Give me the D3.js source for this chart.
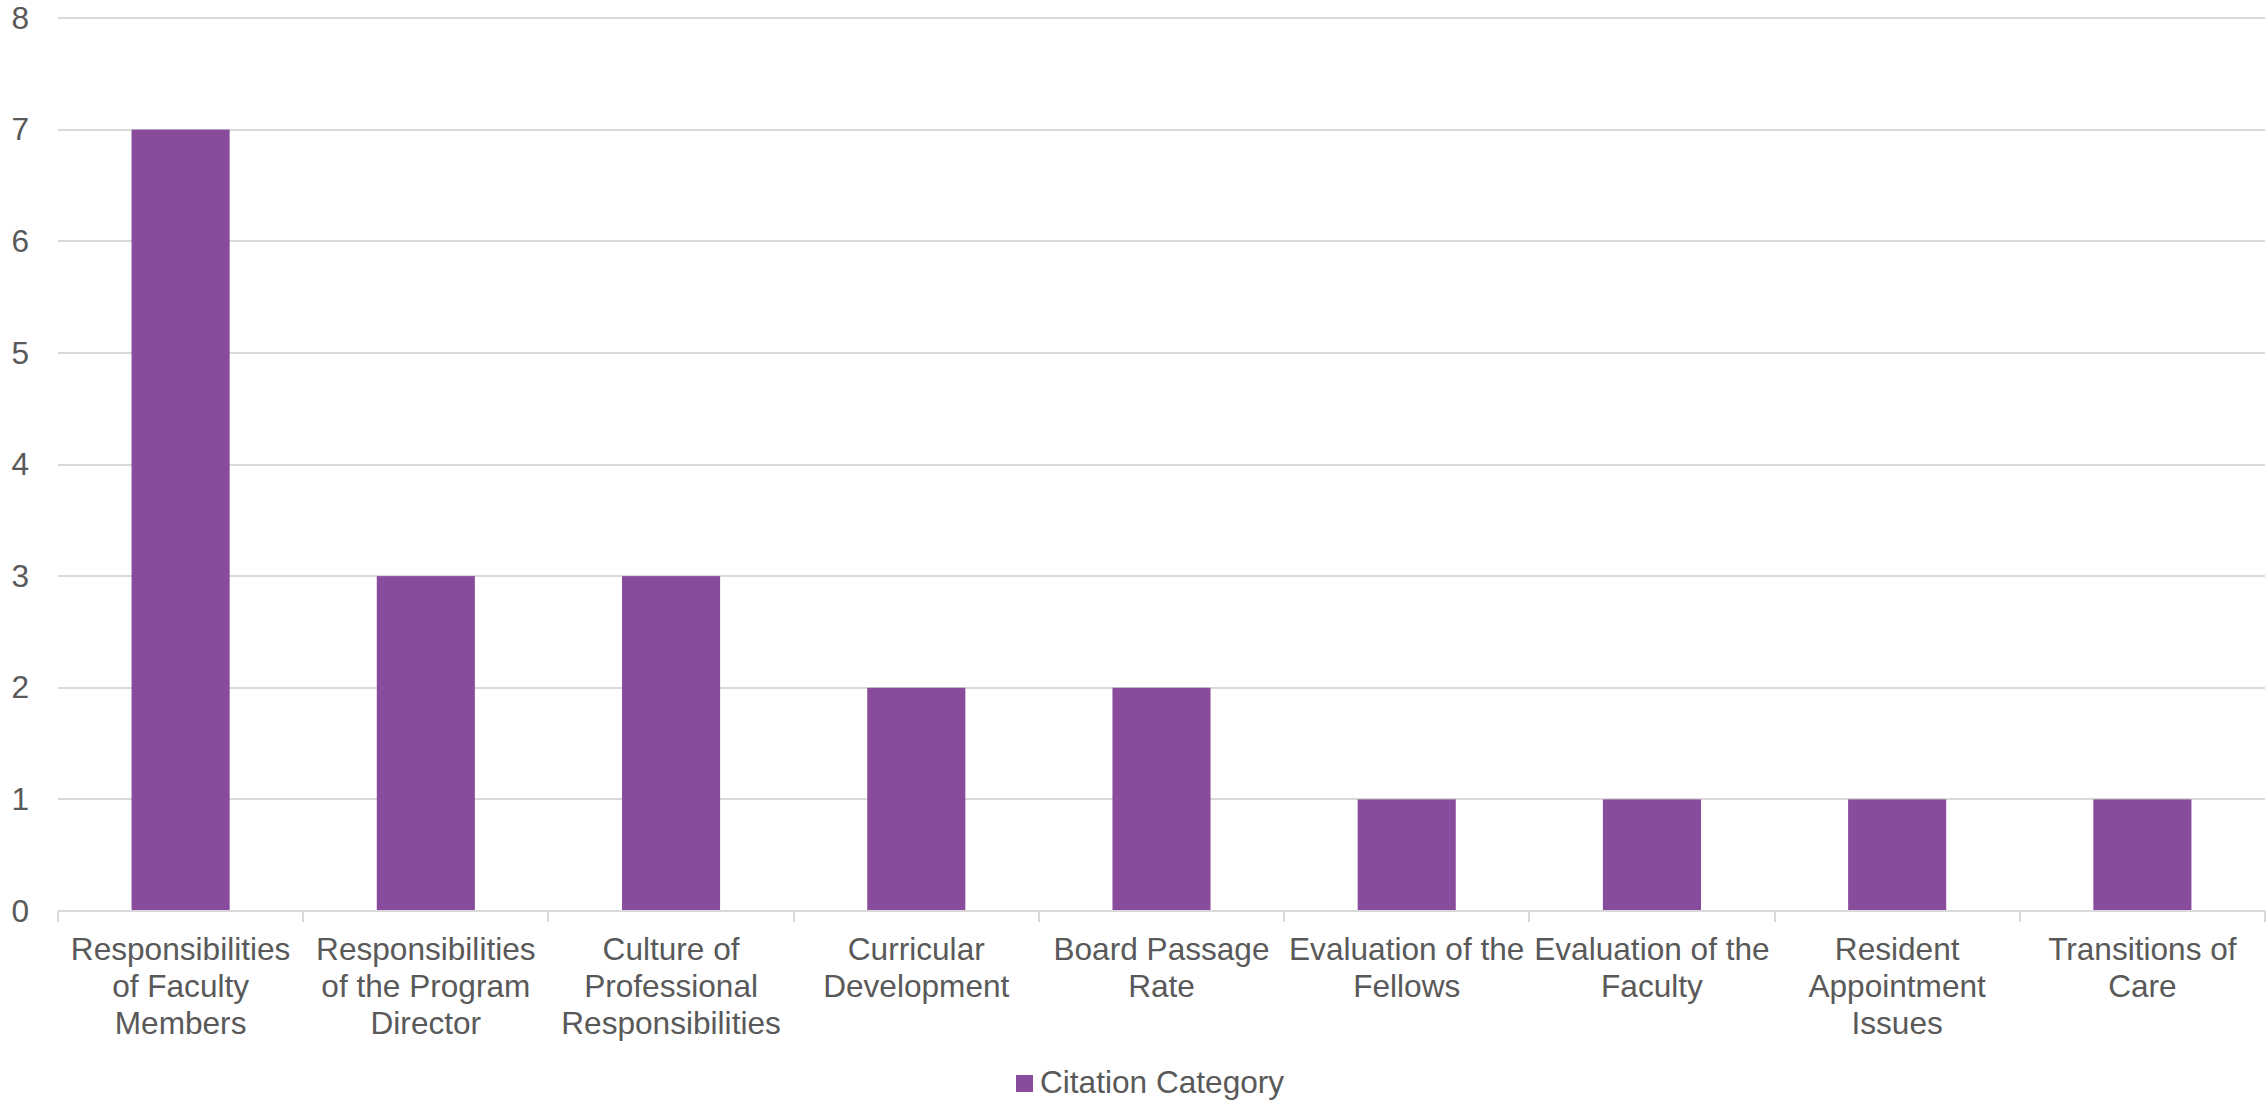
<!DOCTYPE html>
<html>
<head>
<meta charset="utf-8">
<script src="https://cdn.jsdelivr.net/npm/d3@7"></script>
<style>
  html, body { margin: 0; padding: 0; background: #fff; }
  svg { display: block; }
  text { font-family: "Liberation Sans", Arial, sans-serif; fill: #595959; }
</style>
</head>
<body>
<svg id="chart" width="2267" height="1103"></svg>
<script>
const categories = [
  "Responsibilities of Faculty Members",
  "Responsibilities of the Program Director",
  "Culture of Professional Responsibilities",
  "Curricular Development",
  "Board Passage Rate",
  "Evaluation of the Fellows",
  "Evaluation of the Faculty",
  "Resident Appointment Issues",
  "Transitions of Care"
];
const values = [7, 3, 3, 2, 2, 1, 1, 1, 1];
const yTicks = [0, 1, 2, 3, 4, 5, 6, 7, 8];
const seriesName = "Citation Category";

(function () {
const plotLeft = 58, plotRight = 2265, plotTop = 18, plotBottom = 911;
const fontSize = 31.6;
const barColor = "#894C9D";
const gridColor = "#D9D9D9";

const svg = d3.select("#chart");

const x = d3.scaleBand().domain(categories).range([plotLeft, plotRight]).padding(0);
const y = d3.scaleLinear().domain([0, 8]).range([plotBottom, plotTop]);

// gridlines
svg.append("g")
  .selectAll("line")
  .data(yTicks.filter(d => d !== 0))
  .join("line")
  .attr("x1", plotLeft).attr("x2", plotRight)
  .attr("y1", d => Math.round(y(d))).attr("y2", d => Math.round(y(d)))
  .attr("stroke", gridColor).attr("stroke-width", 2);

// y axis labels
const yAxis = d3.axisLeft(y).tickValues(yTicks).tickSize(0).tickPadding(0).tickFormat(d3.format("d"));
const yg = svg.append("g").attr("transform", `translate(${plotLeft - 29},0)`).call(yAxis);
yg.select(".domain").remove();
yg.selectAll("text")
  .attr("font-size", fontSize)
  .attr("font-family", "Liberation Sans, Arial, sans-serif")
  .attr("fill", "#595959");

// bars
const barFrac = 0.4;
svg.append("g")
  .selectAll("rect")
  .data(values)
  .join("rect")
  .attr("x", (d, i) => x(categories[i]) + x.bandwidth() * (1 - barFrac) / 2)
  .attr("width", x.bandwidth() * barFrac)
  .attr("y", d => y(d))
  .attr("height", d => y(0) - y(d))
  .attr("fill", barColor);

// x axis line and ticks
const xg = svg.append("g");
xg.append("line")
  .attr("x1", plotLeft).attr("x2", plotRight)
  .attr("y1", plotBottom).attr("y2", plotBottom)
  .attr("stroke", gridColor).attr("stroke-width", 2);
const tickXs = categories.map(c => x(c)).concat([plotRight]);
xg.selectAll("line.tick")
  .data(tickXs)
  .join("line")
  .attr("class", "tick")
  .attr("x1", d => Math.round(d)).attr("x2", d => Math.round(d))
  .attr("y1", plotBottom).attr("y2", plotBottom + 11)
  .attr("stroke", gridColor).attr("stroke-width", 2);

// x labels with wrapping
const maxW = x.bandwidth() - 3;
const lineH = 37;
const labels = svg.append("g");
categories.forEach(c => {
  const t = labels.append("text")
    .attr("x", x(c) + x.bandwidth() / 2)
    .attr("y", 960)
    .attr("text-anchor", "middle")
    .attr("font-size", fontSize);
  const words = c.split(" ");
  const lines = [];
  let cur = "";
  const probe = t.append("tspan");
  words.forEach(w => {
    const test = cur ? cur + " " + w : w;
    probe.text(test);
    if (probe.node().getComputedTextLength() > maxW && cur) {
      lines.push(cur);
      cur = w;
    } else {
      cur = test;
    }
  });
  if (cur) lines.push(cur);
  probe.remove();
  lines.forEach((l, i) => {
    t.append("tspan")
      .attr("x", x(c) + x.bandwidth() / 2)
      .attr("y", 960 + i * lineH)
      .text(l);
  });
});

// legend
const lg = svg.append("g");
lg.append("rect")
  .attr("x", 1016).attr("y", 1075)
  .attr("width", 17).attr("height", 17)
  .attr("fill", barColor);
lg.append("text")
  .attr("x", 1040).attr("y", 1093)
  .attr("font-size", fontSize)
  .text(seriesName);
})();
</script>
</body>
</html>
